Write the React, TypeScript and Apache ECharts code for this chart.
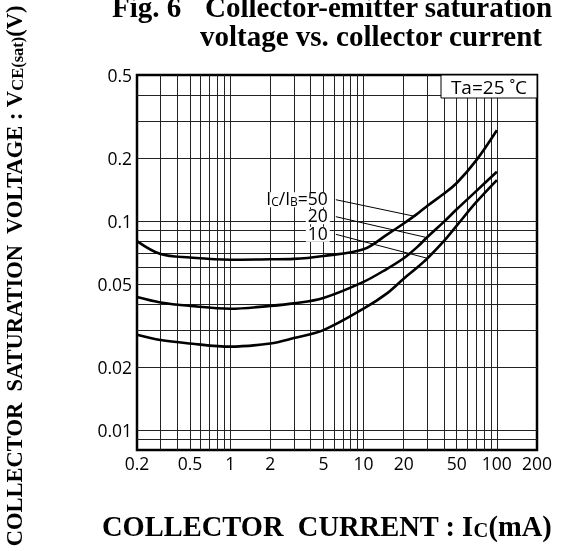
import React, { useEffect, useRef } from 'react';
import * as echarts from 'echarts';

// Collector current (mA)
const currentMA = [0.2, 0.3, 0.5, 1, 2, 3, 5, 10, 15, 20, 25, 30, 40, 50, 70, 100];
// VCE(sat) (V) for each IC/IB ratio
const vceRatio50 = [0.080, 0.0694, 0.0668, 0.0652, 0.0655, 0.0658, 0.068, 0.0732, 0.086, 0.0972, 0.1075, 0.118, 0.135, 0.152, 0.195, 0.272];
const vceRatio20 = [0.0432, 0.0407, 0.0392, 0.038, 0.0392, 0.0403, 0.0428, 0.0511, 0.059, 0.0663, 0.0745, 0.0835, 0.099, 0.1137, 0.139, 0.172];
const vceRatio10 = [0.0285, 0.0269, 0.0259, 0.025, 0.0259, 0.0275, 0.030, 0.038, 0.045, 0.0529, 0.0595, 0.066, 0.080, 0.095, 0.123, 0.157];

// Axis ticks
const xLabels = [0.2, 0.5, 1, 2, 5, 10, 20, 50, 100, 200];
const xGrid = [0.3, 0.4, 0.5, 0.6, 0.7, 0.8, 0.9, 1, 2, 3, 4, 5, 6, 7, 8, 9, 10, 20, 30, 40, 50, 60, 70, 80, 90, 100];
const yLabels = [0.01, 0.02, 0.05, 0.1, 0.2, 0.5];
const yGrid = [0.009, 0.01, 0.02, 0.03, 0.04, 0.05, 0.06, 0.07, 0.08, 0.09, 0.1, 0.2, 0.3, 0.4];

// Annotation leader lines: [label anchor, curve point]
const leader50 = [[6.2, 0.1264], [24.6, 0.105]];
const leader20 = [[6.2, 0.1048], [29.2, 0.0835]];
const leader10 = [[6.2, 0.0863], [30, 0.0663]];

const SANS = "'Open Sans', 'Noto Sans', sans-serif";
const SERIF = "'Liberation Serif', 'DejaVu Serif', serif";

export default function App() {
  const ref = useRef<HTMLDivElement>(null);
  useEffect(() => {
    const chart = echarts.init(ref.current!, null, { renderer: 'svg' });
    const pairs = (vals: number[]) => currentMA.map((x, i) => [x, vals[i]]);
    const richSmall = {
      a: { fontSize: 17.5, fontFamily: SANS, color: '#000', verticalAlign: 'bottom', lineHeight: 15 },
      b: { fontSize: 12, fontFamily: SANS, color: '#000', verticalAlign: 'bottom', lineHeight: 13 },
    };
    const curve = (name: string, vals: number[]) => ({
      type: 'line',
      name,
      data: pairs(vals),
      smooth: 0.35,
      showSymbol: false,
      symbol: 'none',
      silent: true,
      lineStyle: { color: '#000', width: 2.6 },
      z: 4,
    });
    const leader = (name: string, pts: number[][], text: string) => ({
      type: 'line',
      name,
      silent: true,
      symbol: 'circle',
      symbolSize: 0.1,
      showSymbol: true,
      itemStyle: { color: '#000' },
      lineStyle: { color: '#000', width: 1 },
      z: 3,
      data: [
        {
          value: pts[0],
          label: {
            show: true,
            position: 'left',
            distance: 6,
            formatter: text,
            rich: richSmall,
            backgroundColor: '#fff',
            padding: [0, 2, 0, 2],
          },
        },
        { value: pts[1] },
      ],
    });

    chart.setOption({
      animation: false,
      grid: {
        left: 137,
        top: 75,
        width: 400,
        height: 375,
        show: true,
        borderColor: '#000',
        borderWidth: 2.5,
        backgroundColor: 'transparent',
      },
      xAxis: {
        type: 'log',
        logBase: 10,
        min: 0.2,
        max: 200,
        axisLine: { show: false },
        axisTick: { show: false, customValues: xGrid },
        splitLine: { show: true, lineStyle: { color: '#222', width: 1 } },
        minorSplitLine: { show: false },
        axisLabel: {
          customValues: xLabels,
          formatter: (v: number) => String(+Number(v).toPrecision(3)),
          fontFamily: SANS,
          fontSize: 17.5,
          color: '#000',
          margin: 4,
        },
      },
      yAxis: {
        type: 'log',
        logBase: 10,
        min: 0.008,
        max: 0.5,
        axisLine: { show: false },
        axisTick: { show: false, customValues: yGrid },
        splitLine: { show: true, lineStyle: { color: '#222', width: 1 } },
        axisLabel: {
          customValues: yLabels,
          formatter: (v: number) => String(+Number(v).toPrecision(3)),
          fontFamily: SANS,
          fontSize: 17.5,
          color: '#000',
          margin: 5,
        },
      },
      series: [
        curve('IC/IB=50', vceRatio50),
        curve('IC/IB=20', vceRatio20),
        curve('IC/IB=10', vceRatio10),
        leader('leader50', leader50, '{a|I}{b|C}{a|/I}{b|B}{a|=50}'),
        leader('leader20', leader20, '{a|20}'),
        leader('leader10', leader10, '{a|10}'),
      ],
      graphic: [
        {
          type: 'text',
          x: 112,
          y: 7,
          style: { text: 'Fig. 6', font: `bold 29px ${SERIF}`, fill: '#000', align: 'left', verticalAlign: 'middle' },
        },
        {
          type: 'text',
          x: 205,
          y: 7,
          style: { text: 'Collector-emitter saturation', font: `bold 29px ${SERIF}`, fill: '#000', align: 'left', verticalAlign: 'middle' },
        },
        {
          type: 'text',
          x: 200,
          y: 36,
          style: { text: 'voltage vs. collector current', font: `bold 29px ${SERIF}`, fill: '#000', align: 'left', verticalAlign: 'middle' },
        },
        {
          type: 'text',
          x: 14,
          y: 276,
          rotation: Math.PI / 2,
          style: {
            text: '{a|COLLECTOR  SATURATION  VOLTAGE : V}{b|CE(sat)}{a|(V)}',
            rich: {
              a: { fontSize: 22.5, fontWeight: 'bold', fontFamily: SERIF, color: '#000', verticalAlign: 'bottom', lineHeight: 24 },
              b: { fontSize: 16.5, fontWeight: 'bold', fontFamily: SERIF, color: '#000', verticalAlign: 'bottom', lineHeight: 22 },
            },
            align: 'center',
            verticalAlign: 'middle',
          },
        },
        {
          type: 'text',
          x: 102,
          y: 525,
          style: {
            text: '{a|COLLECTOR  CURRENT : I}{b|C}{a|(mA)}',
            rich: {
              a: { fontSize: 28.5, fontWeight: 'bold', fontFamily: SERIF, color: '#000', verticalAlign: 'bottom', lineHeight: 31 },
              b: { fontSize: 20.5, fontWeight: 'bold', fontFamily: SERIF, color: '#000', verticalAlign: 'bottom', lineHeight: 27 },
            },
            align: 'left',
            verticalAlign: 'middle',
          },
        },
        {
          type: 'rect',
          z: 10,
          shape: { x: 441, y: 75, width: 96, height: 23 },
          style: { fill: '#fff', stroke: '#000', lineWidth: 1 },
        },
        {
          type: 'text',
          z: 11,
          x: 489,
          y: 87,
          style: { text: 'Ta=25 ˚C', font: `19px ${SANS}`, fill: '#000', align: 'center', verticalAlign: 'middle' },
        },
      ],
    });
    return () => chart.dispose();
  }, []);
  return <div ref={ref} style={{ position: 'fixed', left: 0, top: 0, width: 567, height: 551 }} />;
}
